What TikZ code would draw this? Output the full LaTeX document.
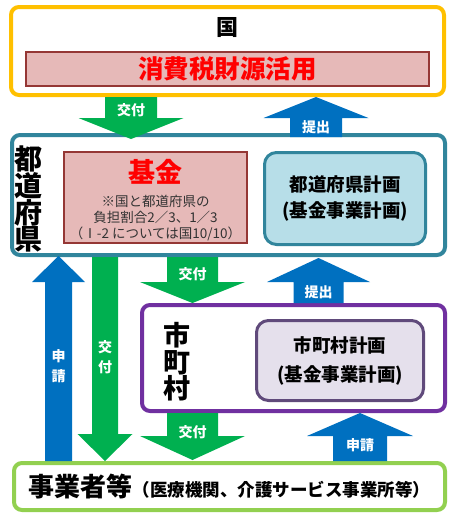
\documentclass[tikz,border=0pt]{standalone}
\usepackage{fontspec}
\setmainfont{Noto Sans CJK JP}
\usetikzlibrary{positioning}

\definecolor{kuniorange}{RGB}{255,192,0}
\definecolor{fundpink}{RGB}{230,185,184}
\definecolor{funddark}{RGB}{149,55,53}
\definecolor{kofugreen}{RGB}{0,176,80}
\definecolor{teishutsublue}{RGB}{0,112,192}
\definecolor{prefteal}{RGB}{49,133,156}
\definecolor{preflight}{RGB}{183,222,232}
\definecolor{citypurple}{RGB}{112,48,160}
\definecolor{citylight}{RGB}{229,224,236}
\definecolor{citydark}{RGB}{96,74,123}
\definecolor{jigyogreen}{RGB}{146,208,80}

% color, centre x, shaft half width, head half width, shaft end, head base, tip
\newcommand{\blockarrow}[7]{%
\fill[#1] (#2-#3,#5) -- (#2+#3,#5) -- (#2+#3,#6) -- (#2+#4,#6) -- (#2,#7)
  -- (#2-#4,#6) -- (#2-#3,#6) -- cycle;}

\tikzset{
  outerbox/.style={draw, line width=4pt, rounded corners=8pt, fill=white, inner sep=0pt},
  fundbox/.style={draw=funddark, line width=2pt, fill=fundpink, inner sep=0pt},
  planbox/.style={line width=3pt, rounded corners=12pt, inner sep=0pt},
  arrlabel/.style={text=white, font=\fontsize{14}{15}\selectfont\bfseries, inner sep=0pt},
  vlabel/.style={font=\fontsize{14}{20}\selectfont\bfseries, align=center, text=white, inner sep=0pt},
}

\begin{document}
\begin{tikzpicture}[x=1pt,y=-1pt]
\useasboundingbox (0,0) rectangle (460,525);

% boxes
\node [outerbox, draw=kuniorange, minimum width=433, minimum height=88] (kuni) at (227.5,51) {};
\node [font=\fontsize{22}{22}\selectfont\bfseries] (kunitext) at (227.5,28) {国};
\node [fundbox, minimum width=403, minimum height=34, text=red,
  font=\fontsize{25.5}{25}\selectfont\bfseries] (zaigen) at (227.5,69) {消費税財源活用};

\node [outerbox, draw=prefteal, minimum width=433, minimum height=120] (pref) at (228.5,195) {};
\node [font=\fontsize{28}{26.5}\selectfont\bfseries, align=center, inner sep=0pt] (preftext) at (28,199) {都\\道\\府\\県};
\node [fundbox, minimum width=183, minimum height=91] (kikin) at (155.5,197.5) {};
\node [text=red, font=\fontsize{27}{27}\selectfont\bfseries] (kikintext) at (155.5,172) {基金};
\node [align=center, font=\fontsize{13.5}{16}\selectfont, text=black!80] (futan) at (155.5,218)
  {※国と都道府県の\\負担割合2／3、1／3\\（Ⅰ-2 については国10/10）};
\node [planbox, draw=prefteal, fill=preflight, minimum width=161, minimum height=92,
  align=center, font=\fontsize{18.5}{26}\selectfont\bfseries] (prefplan) at (345,198.5)
  {都道府県計画\\(基金事業計画)};

\node [outerbox, draw=citypurple, minimum width=303, minimum height=106] (city) at (293.5,358) {};
\node [font=\fontsize{27}{26.5}\selectfont\bfseries, align=center, inner sep=0pt] (citytext) at (177,362) {市\\町\\村};
\node [planbox, draw=citydark, fill=citylight, minimum width=167, minimum height=80,
  align=center, font=\fontsize{18.5}{29}\selectfont\bfseries] (cityplan) at (340,360.5)
  {市町村計画\\(基金事業計画)};

\node [outerbox, draw=jigyogreen, minimum width=431, minimum height=47] (jigyo) at (229.5,486.5)
  {\fontsize{26}{26}\selectfont\bfseries 事業者等\fontsize{17.5}{18}\selectfont （医療機関、介護サービス事業所等）};

% arrows
\blockarrow{kofugreen}{131}{26}{52.5}{97}{118}{139}
\node [arrlabel] (kofu1) at (131,110) {交付};
\blockarrow{teishutsublue}{316}{26}{52.5}{137}{118}{97}
\node [arrlabel] (teishutsu1) at (316,127) {提出};

\blockarrow{teishutsublue}{58.5}{13.5}{26.5}{461}{282}{256}
\node [vlabel] (shinsei1) at (58.5,366) {申\\請};
\blockarrow{kofugreen}{105}{13}{27.5}{257}{434}{461}
\node [vlabel] (kofu2) at (105,357) {交\\付};

\blockarrow{kofugreen}{192.5}{25.5}{52.5}{257}{282}{303}
\node [arrlabel] (kofu3) at (192.5,274) {交付};
\blockarrow{teishutsublue}{318.5}{25}{51.5}{303}{282}{258}
\node [arrlabel] (teishutsu2) at (318.5,292) {提出};

\blockarrow{kofugreen}{192.5}{25.5}{52.5}{413}{436}{460}
\node [arrlabel] (kofu4) at (192.5,432) {交付};
\blockarrow{teishutsublue}{360}{27}{53}{461}{436}{413}
\node [arrlabel] (shinsei2) at (360,445) {申請};
\end{tikzpicture}
\end{document}
